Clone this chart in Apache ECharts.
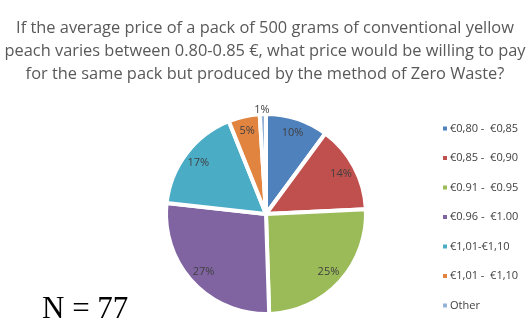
<!DOCTYPE html>
<html>
<head>
<meta charset="utf-8">
<script src="https://cdn.jsdelivr.net/npm/echarts@6/dist/echarts.min.js"></script>
<style>
  html, body { margin: 0; padding: 0; background: #fff; }
  #chart { width: 530px; height: 335px; }
</style>
</head>
<body>
<div id="chart"></div>
<script>
// Price ranges offered and the share of respondents choosing each (%)
const categories = ['€0,80 -  €0,85', '€0,85 -  €0,90', '€0.91 -  €0.95', '€0.96 -  €1.00', '€1,01-€1,10', '€1,01 -  €1,10', 'Other'];
const shares = [10, 14, 25, 27, 17, 5, 1];
const colors = ['#4F81BD', '#C0504D', '#9BBB59', '#8064A2', '#4BACC6', '#E0843F', '#95B3D7'];
const titleLines = [
  'If the average price of a pack of 500 grams of conventional yellow',
  'peach varies between 0.80-0.85 €, what price would be willing to pay',
  'for the same pack but produced by the method of Zero Waste?'
];
const sampleLabel = 'N = 77';

const center = [266, 214];
const radius = 100;

const chart = echarts.init(document.getElementById('chart'), null, { renderer: 'canvas' });

const sliceData = categories.map((name, i) => ({
  name,
  value: shares[i],
  itemStyle: { color: colors[i] }
}));

// Transparent ring used only to carry the percentage labels near the rim;
// very thin slices get their label just outside the pie instead.
const labelData = categories.map((name, i) => ({
  name,
  value: shares[i],
  itemStyle: { color: 'rgba(0,0,0,0)' },
  label: shares[i] < 3 ? { position: 'outside' } : {},
  labelLine: { show: false }
}));

chart.setOption({
  animation: false,
  title: {
    text: titleLines.join('\n'),
    left: 'center',
    top: 12,
    textStyle: {
      fontFamily: 'Open Sans',
      fontSize: 16.4,
      fontWeight: 'normal',
      color: '#595959',
      lineHeight: 23
    }
  },
  graphic: [{
    type: 'text',
    left: 42,
    top: 294,
    style: {
      text: sampleLabel,
      font: '31px "Liberation Serif"',
      fill: '#000'
    }
  }],
  legend: {
    orient: 'vertical',
    left: 436,
    top: 118,
    itemWidth: 6,
    itemHeight: 6,
    itemGap: 18.5,
    icon: 'rect',
    data: categories,
    textStyle: {
      fontFamily: 'Open Sans',
      fontSize: 11,
      color: '#404040',
      padding: [0, 0, 0, -3]
    }
  },
  series: [
    {
      type: 'pie',
      center,
      radius,
      startAngle: 90,
      clockwise: true,
      silent: true,
      itemStyle: { borderColor: '#fff', borderWidth: 4 },
      label: { show: false },
      labelLine: { show: false },
      data: sliceData
    },
    {
      type: 'pie',
      center,
      radius: [radius * 0.64, radius],
      startAngle: 90,
      clockwise: true,
      silent: true,
      legendHoverLink: false,
      label: {
        show: true,
        position: 'inside',
        formatter: '{c}%',
        fontFamily: 'Open Sans',
        fontSize: 11,
        color: '#404040'
      },
      labelLine: { show: false, length: 0, length2: 0 },
      labelLayout: (p) => (shares[p.dataIndex] < 3 ? { align: 'center', dx: 4, dy: -4 } : {}),
      data: labelData
    }
  ]
});
</script>
</body>
</html>
